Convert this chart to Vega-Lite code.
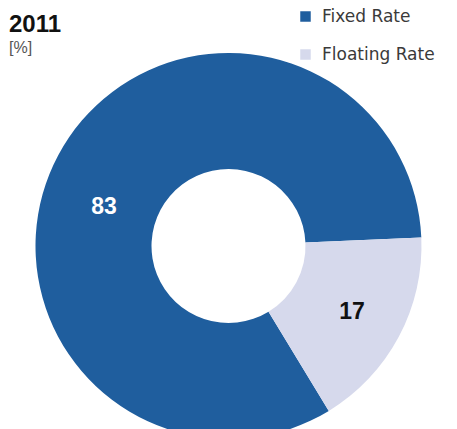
{
  "$schema": "https://vega.github.io/schema/vega-lite/v6.json",
  "width": 457,
  "height": 372,
  "autosize": "none",
  "padding": {"left": 0, "top": 60, "right": 0, "bottom": 0},
  "background": "white",
  "title": {
    "text": "2011",
    "subtitle": "[%]",
    "anchor": "start",
    "frame": "group",
    "offset": -48,
    "dx": 9,
    "font": "Liberation Sans",
    "fontSize": 24,
    "fontWeight": "bold",
    "color": "#111111",
    "subtitleFont": "Liberation Sans",
    "subtitleFontSize": 16,
    "subtitleColor": "#555555",
    "subtitlePadding": 3
  },
  "data": {
    "values": [
      {"type": "Fixed Rate", "value": 83},
      {"type": "Floating Rate", "value": 17}
    ]
  },
  "encoding": {
    "theta": {"field": "value", "type": "quantitative", "stack": true, "scale": {"range": [-3.688, 2.595]}},
    "order": {"field": "type", "sort": "ascending"}
  },
  "layer": [
    {
      "mark": {"type": "arc", "outerRadius": 193, "innerRadius": 77, "stroke": null},
      "encoding": {
        "color": {
          "field": "type",
          "type": "nominal",
          "scale": {"domain": ["Fixed Rate", "Floating Rate"], "range": ["#1F5E9E", "#D6D9EC"]},
          "legend": {
            "title": null,
            "orient": "none",
            "legendX": 297,
            "legendY": -52,
            "symbolType": "square",
            "symbolSize": 110,
            "symbolStrokeWidth": 0,
            "labelFont": "DejaVu Sans",
            "labelFontSize": 17,
            "labelColor": "#3a3a3a",
            "labelOffset": 8,
            "rowPadding": 20
          }
        }
      }
    },
    {
      "mark": {"type": "text", "radius": 131, "dx": -9, "dy": 23, "font": "Liberation Sans", "fontSize": 23, "fontWeight": "bold"},
      "encoding": {
        "text": {"condition": {"test": "datum.type == 'Fixed Rate'", "field": "value", "type": "quantitative"}, "value": ""},
        "color": {"value": "white"}
      }
    },
    {
      "mark": {"type": "text", "radius": 140, "font": "Liberation Sans", "fontSize": 23, "fontWeight": "bold"},
      "encoding": {
        "text": {"condition": {"test": "datum.type == 'Floating Rate'", "field": "value", "type": "quantitative"}, "value": ""},
        "color": {"value": "#111111"}
      }
    }
  ]
}
